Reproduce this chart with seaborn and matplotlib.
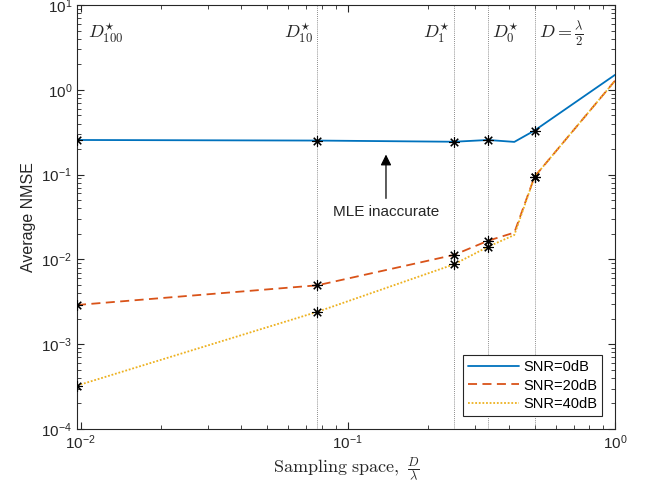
import numpy as np
import pandas as pd
import matplotlib
matplotlib.use("Agg")
import matplotlib.pyplot as plt
import seaborn as sns

# ---- data ----
spacing = [0.0097, 0.077, 0.25, 0.335, 0.42, 0.5, 1.0]
snr0 = [0.256, 0.252, 0.244, 0.256, 0.243, 0.331, 1.50]
snr20 = [0.0029, 0.00495, 0.0113, 0.0166, 0.0207, 0.0944, 1.28]
snr40 = [0.000325, 0.00241, 0.00875, 0.0141, 0.0194, 0.0944, 1.28]
has_marker = [1, 1, 1, 1, 0, 1, 0]
series_names = ["SNR=0dB", "SNR=20dB", "SNR=40dB"]
ref_x = [0.077, 0.25, 0.335, 0.5]
ref_labels = [r"$D^{\star}_{100}$", r"$D^{\star}_{10}$", r"$D^{\star}_{1}$",
              r"$D^{\star}_{0}$", r"$D=\frac{\lambda}{2}$"]
ref_label_x = [0.0097, 0.077, 0.25, 0.335, 0.5]

sns.set_style("ticks")
plt.rcParams["font.family"] = ["Liberation Sans", "DejaVu Sans"]
plt.rcParams["mathtext.fontset"] = "cm"
plt.rcParams["xtick.direction"] = "in"
plt.rcParams["ytick.direction"] = "in"

rows = []
for name, vals in zip(series_names, [snr0, snr20, snr40]):
    for x, v in zip(spacing, vals):
        rows.append({"x": x, "y": v, "series": name})
df = pd.DataFrame(rows)

palette = {"SNR=0dB": "#0072BD", "SNR=20dB": "#D95319", "SNR=40dB": "#EDB120"}
dashes = {"SNR=0dB": "", "SNR=20dB": (5, 3), "SNR=40dB": (1, 1)}

fig = plt.figure(figsize=(6.5, 4.93), dpi=100)
ax = fig.add_axes([77 / 650, 1 - 429 / 493, 538 / 650, 424 / 493])

ax.set_xscale("log")
ax.set_yscale("log")

for xv in ref_x:
    ax.axvline(xv, color="#666666", lw=0.6, ls=(0, (1, 1.5)), zorder=1)

sns.lineplot(data=df, x="x", y="y", hue="series", style="series",
             palette=palette, dashes=dashes, linewidth=1.3, ax=ax,
             legend=True, zorder=3)

for vals in [snr0, snr20, snr40]:
    mx = [x for x, m in zip(spacing, has_marker) if m]
    my = [v for v, m in zip(vals, has_marker) if m]
    ax.plot(mx, my, ls="none", marker=(8, 2, 0), ms=7.5, mec="k", mew=0.8,
            color="k", zorder=4)

ax.set_xlim(0.0097, 1.0)
ax.set_ylim(1e-4, 10)

offsets = [(8, 0, "left"), (-3, 0, "right"), (-3, 0, "right"), (3, 0, "left"), (3, 0, "left")]
for lab, xv, (dx, dy, ha) in zip(ref_labels, ref_label_x, offsets):
    ax.annotate(lab, xy=(xv, 4.6), xytext=(dx, dy), textcoords="offset points",
                ha=ha, va="center", fontsize=13)

ax.annotate("", xy=(0.139, 0.186), xytext=(0.139, 0.0486),
            arrowprops=dict(arrowstyle="-|>", color="k", lw=0.9, mutation_scale=16))
ax.text(0.139, 0.036, "MLE inaccurate", ha="center", va="center", fontsize=11)

ax.set_xlabel(r"$\mathrm{Sampling\ space,}\ \frac{D}{\lambda}$", fontsize=13, labelpad=2)
ax.set_ylabel("Average NMSE", fontsize=11.5)

ax.tick_params(which="both", top=True, right=True, direction="in", labelsize=11,
               color="#262626")
ax.tick_params(which="major", length=5)
ax.tick_params(which="minor", length=3)
for s in ax.spines.values():
    s.set_color("#262626")
    s.set_linewidth(0.8)

leg = ax.legend(loc="lower right", bbox_to_anchor=(525 / 538, 13 / 424),
                borderaxespad=0, fontsize=10.5, frameon=True, fancybox=False,
                edgecolor="#262626", framealpha=1, handlelength=3.5,
                labelspacing=0.3, handletextpad=0.25, borderpad=0.35)
leg.get_frame().set_linewidth(0.8)
for t in leg.get_texts():
    t.set_color("black")

fig.savefig("out.png", dpi=100)
